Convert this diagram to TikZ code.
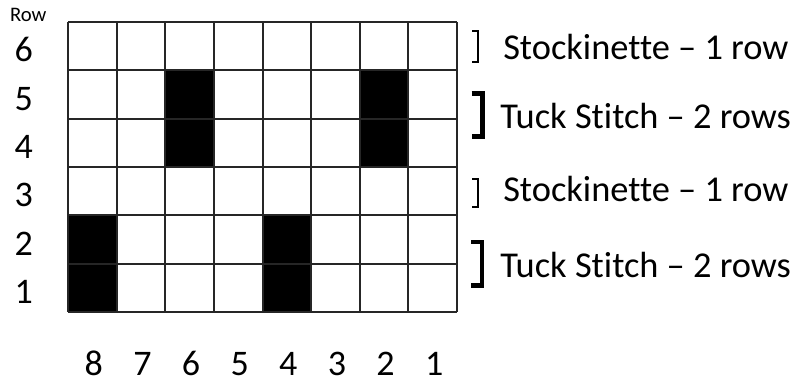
\documentclass[tikz,border=0pt]{standalone}
\usepackage{fontspec}
\setmainfont{Carlito}[Ligatures=NoCommon]
\begin{document}
\begin{tikzpicture}[x=0.75pt,y=-0.75pt,
  gridline/.style={line width=1.5pt, draw=black!85},
  cell/.style={fill=black},
  big/.style={font=\fontsize{27}{31}\selectfont, inner sep=0pt, anchor=base},
  legend/.style={font=\fontsize{27.3}{31}\selectfont, inner sep=0pt, anchor=base west},
  small/.style={font=\fontsize{15.5}{18}\selectfont, inner sep=0pt, anchor=base},
  thinbr/.style={line width=1.5pt, miter limit=10},
  boldbr/.style={line width=3.5pt, miter limit=10}]
\useasboundingbox (0,0) rectangle (800,383);
\def\cw{48.625}
\def\rh{48.333}
% black cells (k = column index from left, r = bottom row)
\foreach \k/\r in {2/4, 6/4, 0/1, 4/1}
  \fill[cell] ({68+\cw*\k},{312-\rh*(\r+1)}) rectangle ({68+\cw*(\k+1)},{312-\rh*(\r-1)});
% grid
\foreach \i in {0,...,8}
  \draw[gridline] ({68+\cw*\i},22) -- ({68+\cw*\i},312);
\foreach \j in {0,...,6}
  \draw[gridline] (68,{22+\rh*\j}) -- (457,{22+\rh*\j});
% row labels
\node[small] (rowlbl) at (28.3,21.7) {Row};
\foreach \r in {1,...,6}
  \node[big] (r\r) at (23.7,{312-\rh*(\r-0.5)+15.5}) {\r};
% column labels
\foreach \c in {1,...,8}
  \node[big] (c\c) at ({68+\cw*(8-\c+0.5)+1.5},375) {\c};
% brackets
\draw[thinbr] (472,31) -- (477.5,31) -- (477.5,62) -- (472,62);
\draw[boldbr] (471.5,93.5) -- (482.5,93.5) -- (482.5,136.5) -- (471.5,136.5);
\draw[thinbr] (472,178.5) -- (477.5,178.5) -- (477.5,206.5) -- (472,206.5);
\draw[boldbr] (471,242) -- (482,242) -- (482,285.5) -- (471,285.5);
% legend texts
\node[legend] (l6) at (503,59) {Stockinette – 1 row};
\node[legend] (l45) at (500,128.5) {Tuck Stitch – 2 rows};
\node[legend] (l3) at (503,201) {Stockinette – 1 row};
\node[legend] (l12) at (500,277) {Tuck Stitch – 2 rows};
\end{tikzpicture}
\end{document}
